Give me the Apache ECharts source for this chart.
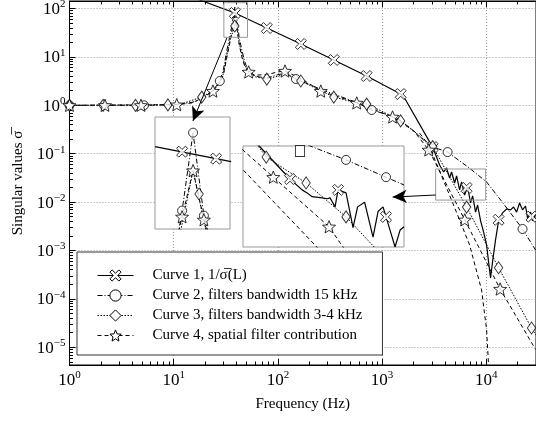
<!DOCTYPE html>
<html>
<head>
<meta charset="utf-8">
<script src="https://cdn.jsdelivr.net/npm/echarts@6/dist/echarts.min.js"></script>
<style>
  html, body { margin: 0; padding: 0; background: #fff; }
  #chart { width: 536px; height: 421px; }
</style>
</head>
<body>
<div id="chart"></div>
<script>
const FONT = 'Liberation Serif';

// axis decades and minor steps
const xExponents = [0, 1, 2, 3, 4];
const yExponents = [-6, -5, -4, -3, -2, -1, 0, 1, 2];
const minorSteps = [2, 3, 4, 5, 6, 7, 8, 9];
const xRange = [1, 30000];
const yRange = [4.3e-6, 143];

const curveNames = [
  'Curve 1, 1/\u03c3\u0305(L)',
  'Curve 2, filters bandwidth 15 kHz',
  'Curve 3, filters bandwidth 3-4 kHz',
  'Curve 4, spatial filter contribution'
];

// main plot: [frequency Hz, singular value]
const c1Line = [[10, 240], [17.8, 150], [38.6, 80.8], [78.3, 39.5], [166, 18.5], [344, 8.63], [711, 4.03],
  [1507, 1.71], [1684, 1.29], [3055, 0.137], [3565, 0.0584], [3899, 0.0419], [4159, 0.0507], [4446, 0.0315],
  [4645, 0.0419], [4966, 0.0248], [5188, 0.0346], [5546, 0.0178], [5794, 0.026], [6194, 0.014], [6622, 0.0205],
  [7063, 0.0096], [7396, 0.0134], [7889, 0.0062], [8253, 0.0087], [8817, 0.0041], [9423, 0.0024], [10070, 0.0013],
  [10520, 0.00058], [10990, 0.00027], [11480, 0.00058], [12270, 0.00165], [13120, 0.0041], [14330, 0.006],
  [15660, 0.0072], [17110, 0.0069], [18280, 0.0079], [19540, 0.0062], [20860, 0.0096], [22280, 0.0069],
  [23810, 0.0083], [24880, 0.0047], [26590, 0.0062], [27790, 0.0041], [29720, 0.0057]];
const c1Marks = [[38.6, 80.8], [78.3, 39.5], [166, 18.5], [344, 8.63], [711, 4.03], [1507, 1.71], [3055, 0.137],
  [6474, 0.0196], [13120, 0.0043], [27170, 0.005]];

const c2Line = [[1, 1], [5.18, 1], [10, 1.03], [15, 1.15], [18.6, 1.35], [23.8, 2.0], [27.7, 3.18], [30, 5.5],
  [32.4, 13.9], [35, 30], [37, 60], [38.6, 107], [40.5, 60], [42.5, 25], [45.1, 13.9], [48, 8], [51.4, 5.35],
  [60, 4.1], [67, 3.84], [78.3, 3.66], [100, 4.3], [120, 4.6], [149, 3.49], [200, 2.7], [258, 2.15], [344, 1.7],
  [571, 1.15], [795, 0.8], [1236, 0.6], [1476, 0.5], [2000, 0.3], [2735, 0.16], [3500, 0.125], [4253, 0.108],
  [6920, 0.05], [10070, 0.026], [14960, 0.0087], [22280, 0.00278], [29720, 0.00102]];
const c2Marks = [[1, 1], [5.18, 1], [27.7, 3.18], [149, 3.49], [795, 0.8], [4253, 0.108], [22280, 0.00278]];

const c3Line = [[1, 1], [8.8, 1.02], [12, 1.08], [18.6, 1.48], [23.8, 2.0], [27.7, 2.9], [30, 4.5], [32.4, 11],
  [35, 24], [37, 33], [38.6, 43.5], [39.5, 55], [40.5, 40], [42.5, 20], [45.1, 11], [48, 7], [51.4, 5], [60, 3.9],
  [78.3, 3.49], [100, 4.0], [120, 4.4], [166, 3.18], [258, 2.0], [344, 1.48], [571, 1.12], [711, 1.06],
  [1000, 0.75], [1507, 0.475], [2200, 0.25], [3055, 0.14], [4000, 0.05], [6474, 0.0079], [13120, 0.00044],
  [27170, 2.5e-5], [30000, 1.8e-5]];
const c3Marks = [[1, 1], [2.1, 1], [4.3, 1], [8.8, 1.02], [18.6, 1.48], [38.6, 43.5], [78.3, 3.49], [166, 3.18],
  [344, 1.48], [711, 1.06], [1507, 0.475], [3055, 0.14], [6474, 0.0079], [13120, 0.00044], [27170, 2.5e-5]];

const c4Line = [[1, 1], [10.7, 1.03], [15, 1.12], [18.6, 1.4], [23.8, 1.97], [27.7, 2.9], [30, 4.3], [32.4, 10],
  [35, 22], [37, 45], [38.6, 70], [39.5, 60], [40.5, 38], [42.5, 18], [45.1, 10], [48, 6.5], [52.4, 4.9],
  [60, 4.2], [78.3, 4.3], [100, 4.9], [117, 5.11], [173, 3.4], [258, 1.97], [571, 1.12], [1260, 0.575],
  [2000, 0.3], [2800, 0.12], [6210, 0.0043], [13580, 0.00016], [29720, 9e-6]];
const c4Marks = [[1, 1], [2.19, 1], [4.85, 1], [10.7, 1.03], [23.8, 1.97], [52.4, 4.9], [117, 5.11], [258, 1.97],
  [571, 1.12], [1260, 0.575], [2800, 0.12], [6210, 0.0043], [13580, 0.00016]];
const c4Notch = [[2291, 0.266], [2810, 0.15], [4645, 0.011], [6920, 0.0013], [9010, 0.000153], [10070, 2.3e-5],
  [10520, 4.2e-6]];

// inset 1 (zoom on the 40 Hz peak)
const in1Range = { x: [30.3, 51.1], y: [25.4, 131.8] };
const in1C1Line = [[30.3, 85.2], [51.5, 68.4]];
const in1C1Marks = [[36.6, 79.2], [46.4, 71.4]];
const in1C2Line = [[35.2, 20], [36.6, 33.3], [39.5, 104.7], [42.6, 30.9], [44.9, 20]];
const in1C2Marks = [[36.6, 33.3], [39.5, 104.7], [42.6, 30.9]];
const in1C3Line = [[35.5, 20], [39.5, 59.9], [44.2, 20]];
const in1C3Marks = [[41.2, 42.5]];
const in1C4Line = [[34.9, 20], [36.6, 30.4], [39.5, 59.9], [42.6, 29.1], [44.6, 20]];
const in1C4Marks = [[36.6, 30.4], [39.5, 59.9], [42.6, 29.1]];

// inset 2 (zoom on 3-10 kHz)
const in2Range = { x: [3266, 9860], y: [0.011, 0.0483] };
const in2C1Line = [[3500, 0.055], [3672, 0.0476], [4509, 0.0298], [4899, 0.0254], [5071, 0.0243], [5248, 0.023],
  [5623, 0.0226], [5815, 0.0223], [5935, 0.0226], [6143, 0.0198], [6271, 0.0254], [6624, 0.0243], [6950, 0.0146],
  [7171, 0.0198], [7524, 0.0212], [7972, 0.0127], [8251, 0.0185], [8538, 0.0198], [8717, 0.0171], [8958, 0.0141],
  [9274, 0.011], [9599, 0.0141], [9860, 0.0148]];
const in2C1Marks = [[4509, 0.0298], [6271, 0.0254], [8717, 0.0171]];
const in2C2Line = [[4800, 0.052], [5176, 0.0483], [6624, 0.0394], [8717, 0.0306], [9860, 0.0273]];
const in2C2Marks = [[6624, 0.0394], [8717, 0.0306]];
const in2C3Line = [[3450, 0.055], [3622, 0.0483], [3830, 0.0411], [5036, 0.0281], [6624, 0.0171], [7972, 0.0112],
  [8300, 0.0102]];
const in2C3Marks = [[3830, 0.0411], [5036, 0.0281], [6624, 0.0171]];
const in2C4Line = [[3100, 0.055], [3266, 0.0455], [4021, 0.0306], [5895, 0.0148], [6357, 0.0117], [6600, 0.0105]];
const in2C4Marks = [[4021, 0.0306], [5895, 0.0148]];
const in2Notch = [[3100, 0.04], [3266, 0.0341], [5422, 0.011], [5600, 0.0102]];
const in2Square = [[4830, 0.0449]];

// zoom rectangles and arrows (data coordinates of main plot)
const zoomBoxes = [[[30.3, 131.8], [51.1, 25.4]], [[3266, 0.0483], [9860, 0.011]]];
const arrows = [[[32.4, 24.6], [15.3, 0.474]], [[3266, 0.014], [1262, 0.0127]]];

const X_PATH = 'path://M2,0L5,3L8,0L10,2L7,5L10,8L8,10L5,7L2,10L0,8L3,5L0,2Z';
const STAR_PATH = 'path://M50,0L62.9,32.2L97.6,34.5L70.9,56.8L79.4,90.5L50,72L20.6,90.5L29.1,56.8L2.4,34.5L37.1,32.2Z';
const DIAMOND_PATH = 'path://M5,0L10,6L5,12L0,6Z';

const styles = [
  { symbol: X_PATH, size: 11, type: 'solid', width: 1.2 },
  { symbol: 'circle', size: 9, type: [5, 2, 1, 2], width: 1 },
  { symbol: DIAMOND_PATH, size: [10, 12], type: [1.5, 1.5], width: 1 },
  { symbol: STAR_PATH, size: 13, type: [4, 3], width: 1 }
];
const markStyle = { color: '#fff', borderColor: '#000', borderWidth: 1 };

function minorLogs(exps, lo, hi) {
  const out = [];
  exps.forEach((e) => {
    minorSteps.forEach((k) => {
      const v = Math.log10(k) + e;
      if (v > lo && v < hi) {
        out.push(v);
      }
    });
  });
  return out;
}

function powLabel(value) {
  const e = Math.log10(value);
  const r = Math.round(e);
  if (Math.abs(e - r) > 1e-6) {
    return '';
  }
  return `{b|10}{e|${r < 0 ? '\u2212' + (-r) : r}}`;
}

const labelRich = {
  b: { fontFamily: FONT, fontSize: 17, color: '#000', verticalAlign: 'bottom' },
  e: { fontFamily: FONT, fontSize: 11, color: '#000', verticalAlign: 'bottom', padding: [0, 0, 8, 0] }
};

const noZeroLine = { show: false, onZero: false };

function hiddenAxis(gridIndex, range) {
  return {
    type: 'log', gridIndex, min: range[0], max: range[1],
    axisLine: noZeroLine, axisTick: { show: false }, axisLabel: { show: false }, splitLine: { show: false }
  };
}

function minorAxis(gridIndex, lo, hi, position, exps) {
  return {
    type: 'value', gridIndex, min: lo, max: hi, position,
    axisLine: noZeroLine, axisLabel: { show: false }, splitLine: { show: false },
    axisTick: { show: true, inside: true, length: 3.5, lineStyle: { color: '#000' },
      customValues: minorLogs(exps, lo, hi) }
  };
}

function lineSeries(name, data, st, xi, yi, z) {
  return {
    type: 'line', name, data, xAxisIndex: xi, yAxisIndex: yi, z,
    symbol: st.symbol, symbolSize: st.size, showSymbol: false, symbolKeepAspect: true,
    itemStyle: markStyle,
    lineStyle: { color: '#000', width: st.width, type: st.type },
    emphasis: { disabled: true }, silent: true
  };
}

function markSeries(name, data, st, xi, yi, z) {
  return {
    type: 'scatter', name, data, xAxisIndex: xi, yAxisIndex: yi, z,
    symbol: st.symbol, symbolSize: st.size, symbolKeepAspect: true,
    itemStyle: markStyle, emphasis: { disabled: true }, silent: true
  };
}

const xLo = Math.log10(xRange[0]);
const xHi = Math.log10(xRange[1]);
const yLo = Math.log10(yRange[0]);
const yHi = Math.log10(yRange[1]);

const mainLines = [c1Line, c2Line, c3Line, c4Line];
const mainMarks = [c1Marks, c2Marks, c3Marks, c4Marks];
const in1Lines = [in1C1Line, in1C2Line, in1C3Line, in1C4Line];
const in1Marks = [in1C1Marks, in1C2Marks, in1C3Marks, in1C4Marks];
const in2Lines = [in2C1Line, in2C2Line, in2C3Line, in2C4Line];
const in2Marks = [in2C1Marks, in2C2Marks, in2C3Marks, in2C4Marks];

const series = [];
mainLines.forEach((d, i) => series.push(lineSeries(curveNames[i], d, styles[i], 0, 0, 2)));
series.push(lineSeries('c4 notch', c4Notch, styles[3], 0, 0, 2));
mainMarks.forEach((d, i) => series.push(markSeries('m' + i, d, styles[i], 0, 0, 3)));
in1Lines.forEach((d, i) => series.push(lineSeries('in1 ' + i, d, styles[i], 4, 2, 11)));
in1Marks.forEach((d, i) => series.push(markSeries('in1m ' + i, d, styles[i], 4, 2, 12)));
in2Lines.forEach((d, i) => series.push(lineSeries('in2 ' + i, d, styles[i], 5, 3, 11)));
series.push(lineSeries('in2 notch', in2Notch, styles[3], 5, 3, 11));
in2Marks.forEach((d, i) => series.push(markSeries('in2m ' + i, d, styles[i], 5, 3, 12)));
series.push(markSeries('in2 square', in2Square, { symbol: 'rect', size: [9, 11] }, 5, 3, 12));
series.push({
  type: 'line', name: 'annot', data: [], xAxisIndex: 0, yAxisIndex: 0, z: 20, silent: true,
  markArea: {
    silent: true, z: 3,
    itemStyle: { color: 'rgba(0,0,0,0)', borderColor: '#999', borderWidth: 1 },
    label: { show: false },
    data: zoomBoxes.map((b) => [{ coord: b[0] }, { coord: b[1] }])
  },
  markLine: {
    silent: true, z: 20, symbol: ['none', 'arrow'], symbolSize: [10, 14],
    label: { show: false },
    lineStyle: { color: '#000', width: 1, type: 'solid' },
    itemStyle: { color: '#000' },
    data: arrows.map((a) => [{ coord: a[0] }, { coord: a[1] }])
  }
});

const chart = echarts.init(document.getElementById('chart'), null, { renderer: 'canvas' });
chart.setOption({
  animation: false,
  backgroundColor: '#fff',
  grid: [
    { left: 69.5, top: 1, right: 0, bottom: 56, show: true, borderColor: '#000', borderWidth: 1,
      backgroundColor: 'transparent', outerBoundsMode: 'none' },
    { left: 155, top: 117, width: 75, height: 112, show: true, z: 10, borderColor: '#999', borderWidth: 1,
      backgroundColor: '#fff', outerBoundsMode: 'none' },
    { left: 243, top: 146, width: 161, height: 101, show: true, z: 10, borderColor: '#999', borderWidth: 1,
      backgroundColor: '#fff', outerBoundsMode: 'none' }
  ],
  legend: {
    data: curveNames, orient: 'vertical', left: 77, top: 252, padding: [16, 20, 12, 20],
    itemWidth: 36, itemHeight: 14, itemGap: 5, selectedMode: false,
    borderColor: '#333', borderWidth: 1, backgroundColor: '#fff', z: 10,
    itemStyle: { color: '#fff', borderColor: '#000', borderWidth: 1 },
    lineStyle: { width: 1 },
    textStyle: { fontFamily: FONT, fontSize: 15, color: '#000', padding: [0, 0, 0, 14] }
  },
  xAxis: [
    {
      type: 'log', gridIndex: 0, min: xRange[0], max: xRange[1], position: 'bottom',
      name: 'Frequency (Hz)', nameLocation: 'middle', nameGap: 32,
      nameTextStyle: { fontFamily: FONT, fontSize: 15, color: '#000' },
      axisLine: { show: true, onZero: false, lineStyle: { color: '#000', width: 1 } },
      axisTick: { show: true, inside: true, length: 6, lineStyle: { color: '#000' } },
      axisLabel: { interval: 0, margin: 5, formatter: powLabel, rich: labelRich },
      splitLine: { show: true, lineStyle: { color: '#999', type: [1, 2], width: 1 } }
    },
    minorAxis(0, xLo, xHi, 'bottom', xExponents),
    {
      type: 'log', gridIndex: 0, min: xRange[0], max: xRange[1], position: 'top',
      axisLine: { show: true, onZero: false, lineStyle: { color: '#000' } }, axisLabel: { show: false },
      axisTick: { show: true, inside: true, length: 6, lineStyle: { color: '#000' } }, splitLine: { show: false }
    },
    minorAxis(0, xLo, xHi, 'top', xExponents),
    hiddenAxis(1, in1Range.x),
    hiddenAxis(2, in2Range.x)
  ],
  yAxis: [
    {
      type: 'log', gridIndex: 0, min: yRange[0], max: yRange[1], position: 'left',
      name: 'Singular values \u03c3\u0305', nameLocation: 'middle', nameGap: 44,
      nameTextStyle: { fontFamily: FONT, fontSize: 15, color: '#000' },
      axisLine: { show: true, onZero: false, lineStyle: { color: '#000', width: 1 } },
      axisTick: { show: true, inside: true, length: 6, lineStyle: { color: '#000' } },
      axisLabel: { interval: 0, margin: 4, formatter: powLabel, rich: labelRich },
      splitLine: { show: true, lineStyle: { color: '#999', type: [1, 2], width: 1 } }
    },
    minorAxis(0, yLo, yHi, 'left', yExponents),
    hiddenAxis(1, in1Range.y),
    hiddenAxis(2, in2Range.y)
  ],
  series
});
</script>
</body>
</html>
